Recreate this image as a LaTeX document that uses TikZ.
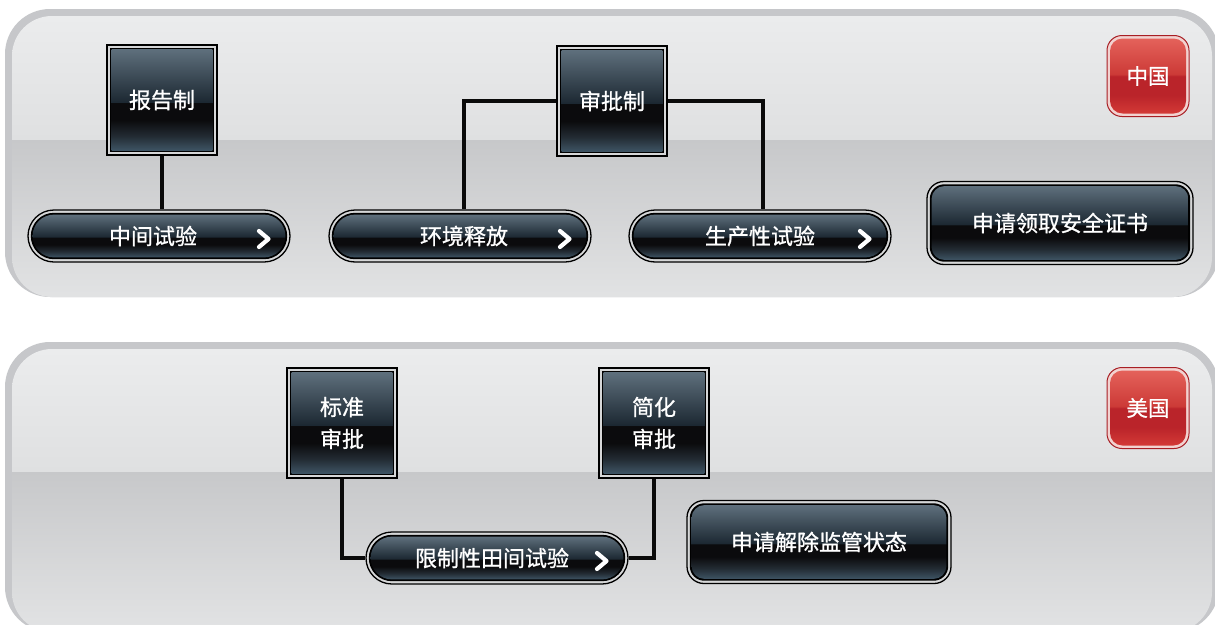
\documentclass[tikz,border=0pt]{standalone}
\usepackage{fontspec}
\newfontfamily\cjk[FakeBold=0.9]{Noto Sans CJK SC}
\usetikzlibrary{calc}
\definecolor{panelring}{HTML}{C6C7CA}
\definecolor{ptop1}{HTML}{EBECED}
\definecolor{ptop2}{HTML}{DFE0E1}
\definecolor{pbot1}{HTML}{C7C8CA}
\definecolor{pbot2}{HTML}{E2E3E4}
\definecolor{ringgray}{HTML}{D6D7D8}
\definecolor{gbot}{HTML}{3E5464}
\definecolor{gmidb}{HTML}{232C34}
\definecolor{gblack}{HTML}{0B0B0D}
\definecolor{gdark}{HTML}{1C2832}
\definecolor{gtop}{HTML}{5E6F7C}
\definecolor{rbot}{HTML}{D83D38}
\definecolor{rmid}{HTML}{BA242A}
\definecolor{rmid2}{HTML}{CC3A37}
\definecolor{rtop}{HTML}{E6655E}
\definecolor{redrim}{HTML}{A81E24}
\definecolor{redring}{HTML}{F2D2D0}
\definecolor{connc}{HTML}{0A0A0A}
\pgfdeclareverticalshading{darkgloss}{100bp}{color(0bp)=(gbot); color(25bp)=(gbot); color(32bp)=(gmidb); color(40bp)=(gblack); color(48.5bp)=(gblack); color(49bp)=(gdark); color(75bp)=(gtop); color(100bp)=(gtop)}
\pgfdeclareverticalshading{redgloss}{100bp}{color(0bp)=(rbot); color(25bp)=(rbot); color(38bp)=(rmid); color(50bp)=(rmid); color(51bp)=(rmid2); color(75bp)=(rtop); color(100bp)=(rtop)}
\tikzset{
  sqbox/.style={rectangle, minimum width=110pt, minimum height=110pt, inner sep=0pt,
    draw=black, line width=1.3pt, fill=ringgray, text=white, align=center,
    font=\cjk\fontsize{22}{32}\selectfont,
    path picture={
      \fill[black] ($(path picture bounding box.south west)+(2.8pt,2.8pt)$) rectangle ($(path picture bounding box.north east)+(-2.8pt,-2.8pt)$);
      \shade[shading=darkgloss] ($(path picture bounding box.south west)+(4.6pt,4.6pt)$) rectangle ($(path picture bounding box.north east)+(-4.6pt,-4.6pt)$);
    }},
  pill/.style={rectangle, rounded corners=26pt, minimum width=262pt, minimum height=52pt, inner sep=0pt,
    draw=black, line width=1.3pt, fill=ringgray, text=white,
    font=\cjk\fontsize{22}{26}\selectfont,
    path picture={
      \fill[black, rounded corners=23.2pt] ($(path picture bounding box.south west)+(2.8pt,2.8pt)$) rectangle ($(path picture bounding box.north east)+(-2.8pt,-2.8pt)$);
      \shade[shading=darkgloss, rounded corners=21.4pt] ($(path picture bounding box.south west)+(4.6pt,4.6pt)$) rectangle ($(path picture bounding box.north east)+(-4.6pt,-4.6pt)$);
      \draw[white, line width=4.2pt, line cap=round, line join=round, rounded corners=0pt]
        ($(path picture bounding box.east)+(-31pt,5pt)$) -- ($(path picture bounding box.east)+(-21.5pt,-3pt)$) -- ($(path picture bounding box.east)+(-31pt,-11pt)$);
    }},
  bigbtn/.style={rectangle, rounded corners=17pt, minimum height=83pt, inner sep=0pt,
    draw=black, line width=1.3pt, fill=ringgray, text=white,
    font=\cjk\fontsize{22}{26}\selectfont,
    path picture={
      \fill[black, rounded corners=14.5pt] ($(path picture bounding box.south west)+(2.8pt,2.8pt)$) rectangle ($(path picture bounding box.north east)+(-2.8pt,-2.8pt)$);
      \shade[shading=darkgloss, rounded corners=12.8pt] ($(path picture bounding box.south west)+(4.6pt,4.6pt)$) rectangle ($(path picture bounding box.north east)+(-4.6pt,-4.6pt)$);
    }},
  badge/.style={rectangle, rounded corners=15pt, minimum width=82pt, minimum height=81pt, inner sep=0pt,
    draw=redrim, line width=1pt, fill=redring, text=white,
    font=\cjk\fontsize{21.5}{26}\selectfont,
    path picture={
      \shade[shading=redgloss, rounded corners=12.5pt] ($(path picture bounding box.south west)+(3pt,3pt)$) rectangle ($(path picture bounding box.north east)+(-3pt,-3pt)$);
    }},
  conn/.style={draw=connc, line width=3.6pt}
}
\begin{document}
\begin{tikzpicture}[x=1pt,y=1pt]
\path[use as bounding box, clip] (0,0) rectangle (1215,-624);
\fill[white] (0,0) rectangle (1215,-624);
% ---------- panel 1 ----------
\fill[panelring, rounded corners=45pt] (5,-9) rectangle (1219,-297);
\begin{scope}
  \clip[rounded corners=40pt] (12,-16) rectangle (1212,-297);
  \shade[top color=ptop1, bottom color=ptop2] (0,-16) rectangle (1220,-140);
  \shade[top color=pbot1, bottom color=pbot2] (0,-140) rectangle (1220,-300);
\end{scope}
% ---------- panel 2 ----------
\fill[panelring, rounded corners=45pt] (5,-342) rectangle (1219,-632);
\begin{scope}
  \clip[rounded corners=40pt] (12,-349) rectangle (1212,-632);
  \shade[top color=ptop1, bottom color=ptop2] (0,-349) rectangle (1220,-472);
  \shade[top color=pbot1, bottom color=pbot2] (0,-472) rectangle (1220,-632);
\end{scope}
% ---------- nodes, panel 1 ----------
\node[sqbox] (bgz) at (162,-100) {报告制};
\node[sqbox] (spz) at (612,-101) {审批制};
\node[pill] (zjsy) at (159,-236) {\hspace*{-12pt}中间试验};
\node[pill] (hjsf) at (460,-236) {环境释放\hspace*{-8pt}};
\node[pill] (scx) at (760,-236) {生产性试验};
\node[bigbtn, minimum width=266pt] (sqaq) at (1060,-223) {申请领取安全证书};
\node[badge] (zg) at (1148,-76) {中国};
% ---------- nodes, panel 2 ----------
\node[sqbox] (bzsp) at (342,-423) {标准\\审批};
\node[sqbox] (jhsp) at (654,-423) {简化\\审批};
\node[pill] (xzx) at (497,-558) {\hspace*{-10pt}限制性田间试验};
\node[bigbtn, minimum width=264pt] (sqjc) at (819,-542) {申请解除监管状态};
\node[badge] (mg) at (1148,-408) {美国};
% ---------- connectors ----------
\draw[conn] (bgz.south) -- (bgz.south |- zjsy.north);
\draw[conn] (spz.west) -| ([xshift=4pt]hjsf.north);
\draw[conn] (spz.east) -| ([xshift=3pt]scx.north);
\draw[conn] (bzsp.south) |- (xzx.west);
\draw[conn] (jhsp.south) |- (xzx.east);
\end{tikzpicture}
\end{document}
